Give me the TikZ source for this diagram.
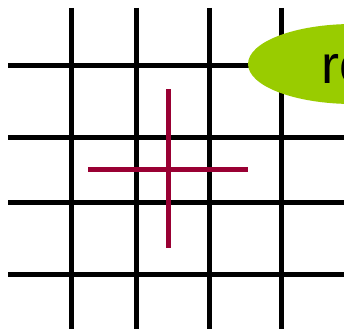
\documentclass[tikz,border=0pt]{standalone}
\usepackage{fontspec}
\setmainfont{Liberation Sans}
\usetikzlibrary{shapes.geometric}
\definecolor{gridblack}{HTML}{000000}
\definecolor{crossred}{HTML}{990033}
\definecolor{leafgreen}{HTML}{99CC00}
\tikzset{
  gridline/.style={draw=gridblack, line width=5pt},
  crossline/.style={draw=crossred, line width=5pt},
  blob/.style={ellipse, fill=leafgreen, draw=none, minimum width=210pt, minimum height=80pt, inner sep=0pt},
  label/.style={font=\fontsize{54pt}{54pt}\selectfont, text=black, anchor=base west, inner sep=0pt}
}
\begin{document}
\begin{tikzpicture}[x=1pt,y=-1pt]
\useasboundingbox (0,0) rectangle (344,329);
\clip (0,0) rectangle (344,329);
\fill[white] (0,0) rectangle (344,329);
% vertical grid lines
\foreach \xx in {71,136.5,209,281}{
  \draw[gridline] (\xx,8) -- (\xx,329);
}
% horizontal grid lines
\foreach \yy in {65,137,202,274}{
  \draw[gridline] (8,\yy) -- (344,\yy);
}
% red cross
\coordinate (ct) at (168,89);
\coordinate (cb) at (168,248);
\coordinate (cl) at (88,169);
\coordinate (cr) at (248,169);
\draw[crossline] (ct) -- (cb);
\draw[crossline] (cl) -- (cr);
% green ellipse
\node[blob] (oval) at (353,64) {};
\node[label] (txt) at (321,83) {ro};
\end{tikzpicture}
\end{document}
